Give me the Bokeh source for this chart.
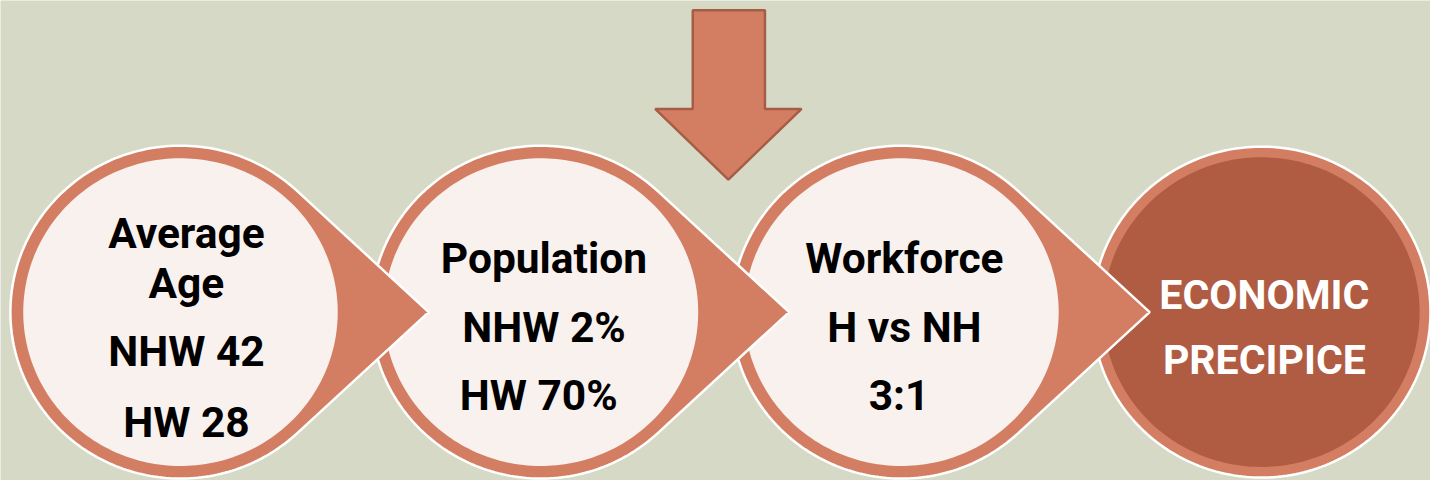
import numpy as np
from bokeh.plotting import figure
from bokeh.models import Range1d
from bokeh.core.properties import value
from bokeh.embed import file_html
from bokeh.resources import INLINE

# ---- content ----
titles = ["Average", "Population", "Workforce"]
line2 = ["Age", "", ""]
line3 = ["NHW 42", "NHW 2%", "H vs NH"]
line4 = ["HW 28", " HW 70%", " 3:1"]
final_lines = ["ECONOMIC", "PRECIPICE"]

# ---- colours ----
BG = "#D6D9C6"
ORANGE = "#D37E63"
LIGHT = "#F9F1EE"
DARK = "#B05C42"
ARROW_EDGE = "#A65D45"

# ---- geometry (reference pixel space, y down) ----
W, H = 1446, 496
PW, PH = 1430, 480

p = figure(width=PW, height=PH, output_backend="svg", toolbar_location=None,
           x_range=Range1d(0, W), y_range=Range1d(H, 0),
           min_border=0)
p.axis.visible = False
p.grid.visible = False
p.outline_line_color = None
p.background_fill_color = BG
p.border_fill_color = BG

cy = 322
step = 364.5
centers = [182 + i * step for i in range(4)]
R_OUT, R_IN, TIP = 172, 159, 251

def teardrop(cx, cy, r, d, n=200):
    a = np.arccos(r / d)
    t = np.linspace(a, 2 * np.pi - a, n)
    xs = list(cx + r * np.cos(t)) + [cx + d]
    ys = list(cy + r * np.sin(t)) + [cy]
    return xs, ys

def circle_pts(cx, cy, r, n=240):
    t = np.linspace(0, 2 * np.pi, n)
    return list(cx + r * np.cos(t)), list(cy + r * np.sin(t))

# final circle (drawn first so pointers overlay it)
c4 = 1275
xs, ys = circle_pts(c4, cy, 171)
p.patch(xs, ys, fill_color=ORANGE, line_color="white", line_width=2.5)
xs, ys = circle_pts(c4, cy, 160)
p.patch(xs, ys, fill_color=DARK, line_color=None)

# the three pointer circles, right to left
for i in [2, 1, 0]:
    cx = centers[i]
    xs, ys = teardrop(cx, cy, R_OUT, TIP)
    p.patch(xs, ys, fill_color=ORANGE, line_color="white", line_width=2.5)
    xs, ys = circle_pts(cx, cy, R_IN)
    p.patch(xs, ys, fill_color=LIGHT, line_color=None)

# down arrow
ax = [700, 773, 773, 810, 736, 662, 700, 700]
ay = [10, 10, 112, 112, 185, 112, 112, 10]
p.patch(ax, ay, fill_color=ORANGE, line_color=ARROW_EDGE, line_width=2.5)

# texts
bold_size = "42.5px"
font = value("Roboto")
tx, ty, tt = [], [], []
c1 = centers[0] + 6
for txt, y in zip([titles[0], line2[0], line3[0], line4[0]], [241, 292, 363, 436]):
    tx.append(c1); ty.append(y); tt.append(txt)
for i in [1, 2]:
    cxx = centers[i] + 3
    for txt, y in zip([titles[i], line3[i], line4[i]], [267, 338, 408]):
        tx.append(cxx); ty.append(y); tt.append(txt)
p.text(x=tx, y=ty, text=tt, text_align="center", text_baseline="alphabetic",
       text_font=font, text_font_style="bold", text_font_size=bold_size,
       text_color="black")

p.text(x=[c4 + 3, c4 + 3], y=[304, 371], text=final_lines, text_align="center",
       text_baseline="alphabetic", text_font=font, text_font_style="bold",
       text_font_size="41px", text_color="white")

open("out.html", "w").write(file_html(p, INLINE))
